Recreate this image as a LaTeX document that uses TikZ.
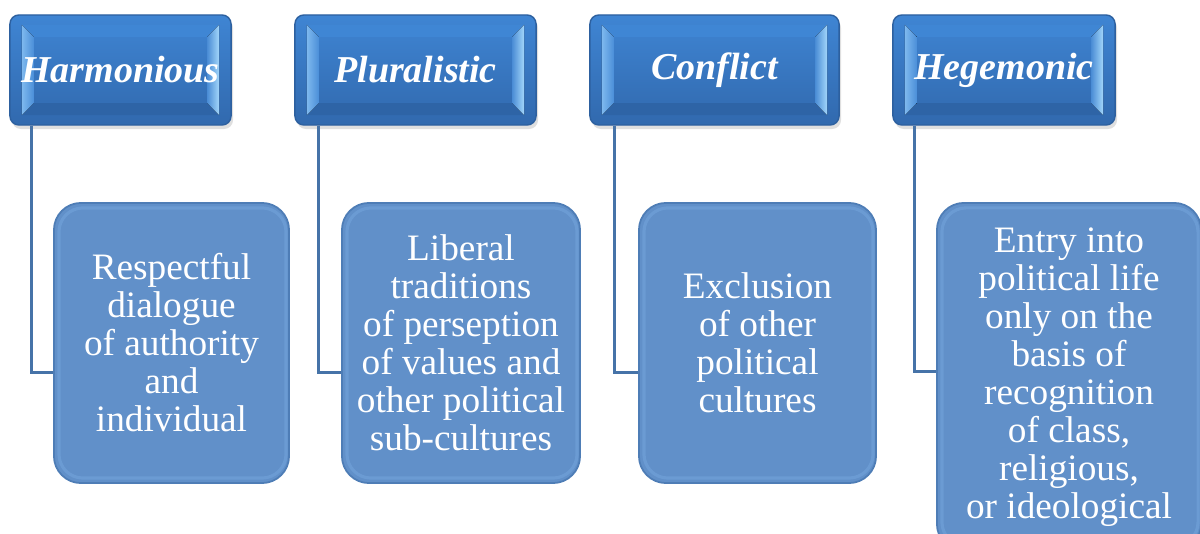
\documentclass[tikz,border=0pt]{standalone}
\usepackage{fontspec}
\setmainfont{Liberation Serif}
\usetikzlibrary{shadows,calc}
\definecolor{headtop}{HTML}{3F85D3}
\definecolor{headbot}{HTML}{3169AE}
\definecolor{headrim}{HTML}{2D609F}
\definecolor{bevL}{HTML}{7DB8EE}
\definecolor{bevLi}{HTML}{4A8ED8}
\definecolor{bevR}{HTML}{A2D6FA}
\definecolor{bevRi}{HTML}{4A8CD5}
\definecolor{bevT}{HTML}{3F86D4}
\definecolor{bevB}{HTML}{2E64A6}
\definecolor{bodyfill}{HTML}{6190C9}
\definecolor{bodyrim}{HTML}{4E7DB6}
\definecolor{bodyhi}{HTML}{6B9BD3}
\definecolor{linkc}{HTML}{4673A8}
\tikzset{
  headbox/.style={rounded corners=0.09cm, draw=headrim, line width=0.4pt,
    top color=headtop, bottom color=headbot, text=white,
    minimum height=1.10cm, inner sep=0pt,
    font=\fontsize{10.8}{12}\selectfont\bfseries\itshape,
    drop shadow={opacity=0.25, shadow xshift=0.02cm, shadow yshift=-0.04cm},
    path picture={
      \coordinate (pnw) at (path picture bounding box.north west);
      \coordinate (pse) at (path picture bounding box.south east);
      \coordinate (pne) at (pse |- pnw);
      \coordinate (psw) at (pnw |- pse);
      \begin{scope}[sharp corners]
      \fill[bevT] ($(pnw)+(0.12cm,-0.10cm)$) -- ($(pne)+(-0.12cm,-0.10cm)$) -- ($(pne)+(-0.24cm,-0.22cm)$) -- ($(pnw)+(0.24cm,-0.22cm)$) -- cycle;
      \fill[bevB] ($(psw)+(0.12cm,0.10cm)$) -- ($(pse)+(-0.12cm,0.10cm)$) -- ($(pse)+(-0.24cm,0.22cm)$) -- ($(psw)+(0.24cm,0.22cm)$) -- cycle;
      \fill[left color=bevL, right color=bevLi] ($(pnw)+(0.12cm,-0.10cm)$) -- ($(pnw)+(0.24cm,-0.22cm)$) -- ($(psw)+(0.24cm,0.22cm)$) -- ($(psw)+(0.12cm,0.10cm)$) -- cycle;
      \fill[left color=bevRi, right color=bevR] ($(pne)+(-0.12cm,-0.10cm)$) -- ($(pne)+(-0.24cm,-0.22cm)$) -- ($(pse)+(-0.24cm,0.22cm)$) -- ($(pse)+(-0.12cm,0.10cm)$) -- cycle;
      \end{scope}
    }},
  bodybox/.style={rounded corners=0.27cm, draw=bodyrim, line width=0.5pt,
    fill=bodyfill, text=white, align=center, inner sep=0pt,
    font=\fontsize{10.6}{10.8}\selectfont,
    path picture={
      \draw[bodyhi, line width=0.9pt, rounded corners=0.24cm]
        ([shift={(0.05cm,0.05cm)}]path picture bounding box.south west) rectangle
        ([shift={(-0.03cm,-0.05cm)}]path picture bounding box.north east);
    }},
  link/.style={draw=linkc, line width=0.03cm}
}
\begin{document}
\begin{tikzpicture}[x=0.01cm, y=-0.01cm]
\useasboundingbox (0,0) rectangle (1200,534);
% top boxes
\node[headbox, minimum width=2.21cm] (h1) at (120.5,70) {Harmonious};
\node[headbox, minimum width=2.41cm] (h2) at (415.5,70) {Pluralistic};
\node[headbox, minimum width=2.49cm] (h3) at (714.5,70) {Conflict};
\node[headbox, minimum width=2.22cm] (h4) at (1004,70) {Hegemonic};
% child boxes
\node[bodybox, minimum width=2.35cm, minimum height=2.80cm] (b1) at (171.5,343)
  {Respectful\\dialogue\\of authority\\and\\individual};
\node[bodybox, minimum width=2.38cm, minimum height=2.80cm] (b2) at (461,343)
  {Liberal\\traditions\\of perseption\\of values and\\other political\\sub-cultures};
\node[bodybox, minimum width=2.37cm, minimum height=2.80cm] (b3) at (757.5,343)
  {Exclusion\\of other\\political\\cultures};
\node[bodybox, minimum width=2.64cm, minimum height=3.48cm] (b4) at (1069,377)
  {Entry into\\political life\\only on the\\basis of\\recognition\\of class,\\religious,\\or ideological};
% connectors
\draw[link] ([xshift=0.22cm]h1.south west) |- ([yshift=-0.29cm]b1.west);
\draw[link] ([xshift=0.24cm]h2.south west) |- ([yshift=-0.29cm]b2.west);
\draw[link] ([xshift=0.25cm]h3.south west) |- ([yshift=-0.29cm]b3.west);
\draw[link] ([xshift=0.22cm]h4.south west) |- ([yshift=0.05cm]b4.west);
\end{tikzpicture}
\end{document}
